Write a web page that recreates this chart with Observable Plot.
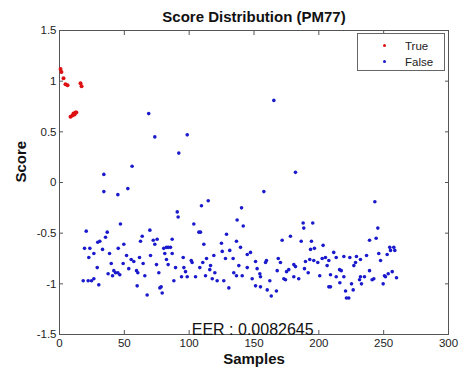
<!DOCTYPE html>
<html><head><meta charset="utf-8">
<script src="https://cdn.jsdelivr.net/npm/d3@7"></script>
<script src="https://cdn.jsdelivr.net/npm/@observablehq/plot@0.6"></script>
<style>
body{margin:0;background:#fff;font-family:"Liberation Sans",Arial,Helvetica,sans-serif;}
#wrap{position:relative;width:460px;height:370px;}
#legend{position:absolute;left:357px;top:33px;width:88px;height:38px;border:1px solid #666;background:#fff;font-size:11.5px;color:#222;box-sizing:border-box;}
.row{position:absolute;left:0;height:14px;line-height:14px;}
.mk{position:absolute;left:25px;top:5px;width:3px;height:3px;border-radius:50%;}
.lb{position:absolute;left:47px;top:0;white-space:nowrap;}
</style></head>
<body><div id="wrap"></div>
<script>
const title = "Score Distribution (PM77)";
const xLabel = "Samples";
const yLabel = "Score";
const eerText = "EER : 0.0082645";
const eerPos = {x: 149, y: -1.5};
const seriesNames = ["True", "False"];
const seriesColors = ["#dd1111", "#1a1acc"];
const xTicks = [0, 50, 100, 150, 200, 250, 300];
const yTicks = [-1.5, -1, -0.5, 0, 0.5, 1, 1.5];

const trueX = [0.8, 1.5, 3.1, 4.6, 6.2, 16.2, 17.0, 8.5, 10.0, 10.8, 12.3, 13.0, 11.6];
const trueY = [1.12, 1.09, 1.03, 0.97, 0.96, 0.98, 0.95, 0.65, 0.66, 0.68, 0.69, 0.69, 0.67];

const falseX = [
 68.8,73.5,92.0,34.2,56.0,34.2,45.0,52.7,165.3,98.5,182.0,157.6,114.7,109.5,140.4,
 47.0,20.6,36.8,69.7,63.8,35.5,31.1,29.5,49.6,62.5,72.3,75.3,73.5,19.3,23.4,33.2,45.3,26.5,38.6,22.6,51.7,61.7,70.2,81.2,82.5,83.8,85.6,86.9,80.4,55.3,57.3,64.5,39.9,49.1,74.8,82.5,83.8,29.1,41.9,43.2,45.0,53.4,59.4,60.4,76.6,89.5,46.5,37.5,40.9,65.8,26.5,18.3,22.1,24.7,30.3,88.2,59.9,77.4,78.4,79.2,67.6,
 90.8,91.5,137.0,103.6,141.7,107.5,108.7,128.8,187.9,188.4,178.1,86.9,136.5,124.9,111.3,171.7,131.3,139.6,125.5,147.3,144.8,95.4,113.4,119.0,128.0,133.9,101.6,102.3,110.5,151.2,159.6,158.9,168.7,170.4,180.7,182.0,95.9,108.2,116.5,115.9,138.3,144.8,152.4,97.2,119.8,134.4,167.9,175.1,176.8,94.1,98.5,104.9,112.6,117.8,121.6,126.7,136.5,140.9,148.6,154.5,155.0,162.2,173.0,174.3,180.7,184.5,130.6,151.2,155.0,160.2,167.3,163.3,
 243.2,195.3,245.5,244.2,186.4,194.3,239.1,193.6,196.6,203.3,211.5,254.7,257.8,255.3,258.6,246.2,252.7,236.8,229.0,219.3,213.4,223.9,205.1,202.6,193.0,196.1,207.7,247.6,189.7,199.2,232.1,228.3,227.0,206.4,216.0,217.3,239.1,188.9,191.8,200.7,209.0,213.4,219.3,232.1,235.2,241.1,242.4,250.6,253.5,256.6,259.9,251.4,209.0,207.7,216.2,225.2,231.4,232.9,249.6,220.6,226.5,221.3,223.1
];
const falseY = [
 0.68,0.45,0.29,0.08,0.16,-0.09,-0.12,-0.06,0.81,0.47,0.10,-0.09,-0.18,-0.23,-0.25,
 -0.41,-0.48,-0.49,-0.47,-0.53,-0.54,-0.58,-0.59,-0.61,-0.58,-0.57,-0.56,-0.61,-0.65,-0.65,-0.66,-0.65,-0.70,-0.70,-0.74,-0.72,-0.74,-0.72,-0.70,-0.64,-0.64,-0.64,-0.70,-0.65,-0.76,-0.78,-0.80,-0.80,-0.80,-0.81,-0.76,-0.81,-0.84,-0.87,-0.89,-0.89,-0.85,-0.87,-0.89,-0.89,-0.84,-0.91,-0.90,-0.92,-0.92,-0.95,-0.97,-0.97,-0.97,-1.01,-0.97,-1.02,-1.04,-1.03,-1.09,-1.11,
 -0.29,-0.34,-0.37,-0.41,-0.43,-0.49,-0.49,-0.51,-0.40,-0.45,-0.53,-0.56,-0.58,-0.60,-0.61,-0.57,-0.67,-0.64,-0.68,-0.69,-0.71,-0.74,-0.75,-0.72,-0.75,-0.75,-0.77,-0.79,-0.79,-0.78,-0.77,-0.79,-0.75,-0.79,-0.81,-0.83,-0.84,-0.84,-0.82,-0.86,-0.82,-0.84,-0.85,-0.88,-0.89,-0.89,-0.87,-0.88,-0.86,-0.93,-0.93,-0.93,-0.92,-0.95,-0.97,-0.97,-0.92,-0.92,-0.95,-0.90,-0.93,-0.97,-0.95,-0.96,-0.93,-0.95,-1.04,-1.02,-1.03,-1.06,-1.07,-1.12,
 -0.19,-0.40,-0.45,-0.55,-0.58,-0.58,-0.57,-0.66,-0.65,-0.62,-0.69,-0.64,-0.64,-0.67,-0.67,-0.70,-0.71,-0.72,-0.73,-0.73,-0.74,-0.74,-0.74,-0.75,-0.76,-0.77,-0.77,-0.77,-0.78,-0.79,-0.76,-0.79,-0.82,-0.82,-0.86,-0.87,-0.87,-0.85,-0.89,-0.92,-0.91,-0.93,-0.93,-0.93,-0.93,-0.96,-0.95,-0.92,-0.90,-0.88,-0.94,-0.93,-1.03,-1.03,-0.99,-1.00,-0.96,-1.00,-1.00,-1.07,-1.06,-1.14,-1.14
];

const trueData = trueX.map((x, i) => ({x, y: trueY[i]}));
const falseData = falseX.map((x, i) => ({x, y: falseY[i]}));
const axisColor = "#555";

const chart = Plot.plot({
  width: 460, height: 370,
  marginLeft: 59, marginRight: 12, marginTop: 30, marginBottom: 36,
  style: {fontFamily: "'Liberation Sans', Arial, Helvetica, sans-serif", fontSize: "11.5px", color: "#222", background: "#fff", overflow: "visible"},
  x: {domain: [0, 300]},
  y: {domain: [-1.5, 1.5]},
  marks: [
    Plot.axisX(xTicks, {anchor: "bottom", tickSize: -4, tickPadding: 8, label: null, stroke: axisColor, fill: "#222"}),
    Plot.axisX(xTicks, {anchor: "top", tickSize: -4, tickFormat: () => "", label: null, stroke: axisColor}),
    Plot.axisY(yTicks, {anchor: "left", tickSize: -4, tickPadding: 7, tickFormat: d => String(d), label: null, stroke: axisColor, fill: "#222"}),
    Plot.axisY(yTicks, {anchor: "right", tickSize: -4, tickFormat: () => "", label: null, stroke: axisColor}),
    Plot.frame({stroke: axisColor}),
    Plot.dot(falseData, {x: "x", y: "y", r: 1.8, fill: seriesColors[1]}),
    Plot.dot(trueData, {x: "x", y: "y", r: 2, fill: seriesColors[0]}),
    Plot.text([eerText], {x: () => eerPos.x, y: () => eerPos.y, text: d => d, lineAnchor: "bottom", fontSize: 16, fill: "#111"}),
    Plot.text([title], {frameAnchor: "top", text: d => d, lineAnchor: "bottom", dy: -9, fontSize: 15, fontWeight: "bold", fill: "#111"}),
    Plot.text([xLabel], {frameAnchor: "bottom", text: d => d, lineAnchor: "middle", dy: 25, fontSize: 15, fontWeight: "bold", fill: "#111"}),
    Plot.text([yLabel], {frameAnchor: "left", text: d => d, lineAnchor: "middle", dx: -38, rotate: -90, fontSize: 15, fontWeight: "bold", fill: "#111"})
  ]
});
const wrap = document.getElementById("wrap");
wrap.appendChild(chart);

const legend = document.createElement("div");
legend.id = "legend";
seriesNames.forEach((name, i) => {
  const row = document.createElement("div");
  row.className = "row";
  row.style.top = (5 + i * 16) + "px";
  row.style.width = "100%";
  const mk = document.createElement("span");
  mk.className = "mk";
  mk.style.background = seriesColors[i];
  const lb = document.createElement("span");
  lb.className = "lb";
  lb.textContent = name;
  row.appendChild(mk); row.appendChild(lb);
  legend.appendChild(row);
});
wrap.appendChild(legend);
</script>
</body></html>
